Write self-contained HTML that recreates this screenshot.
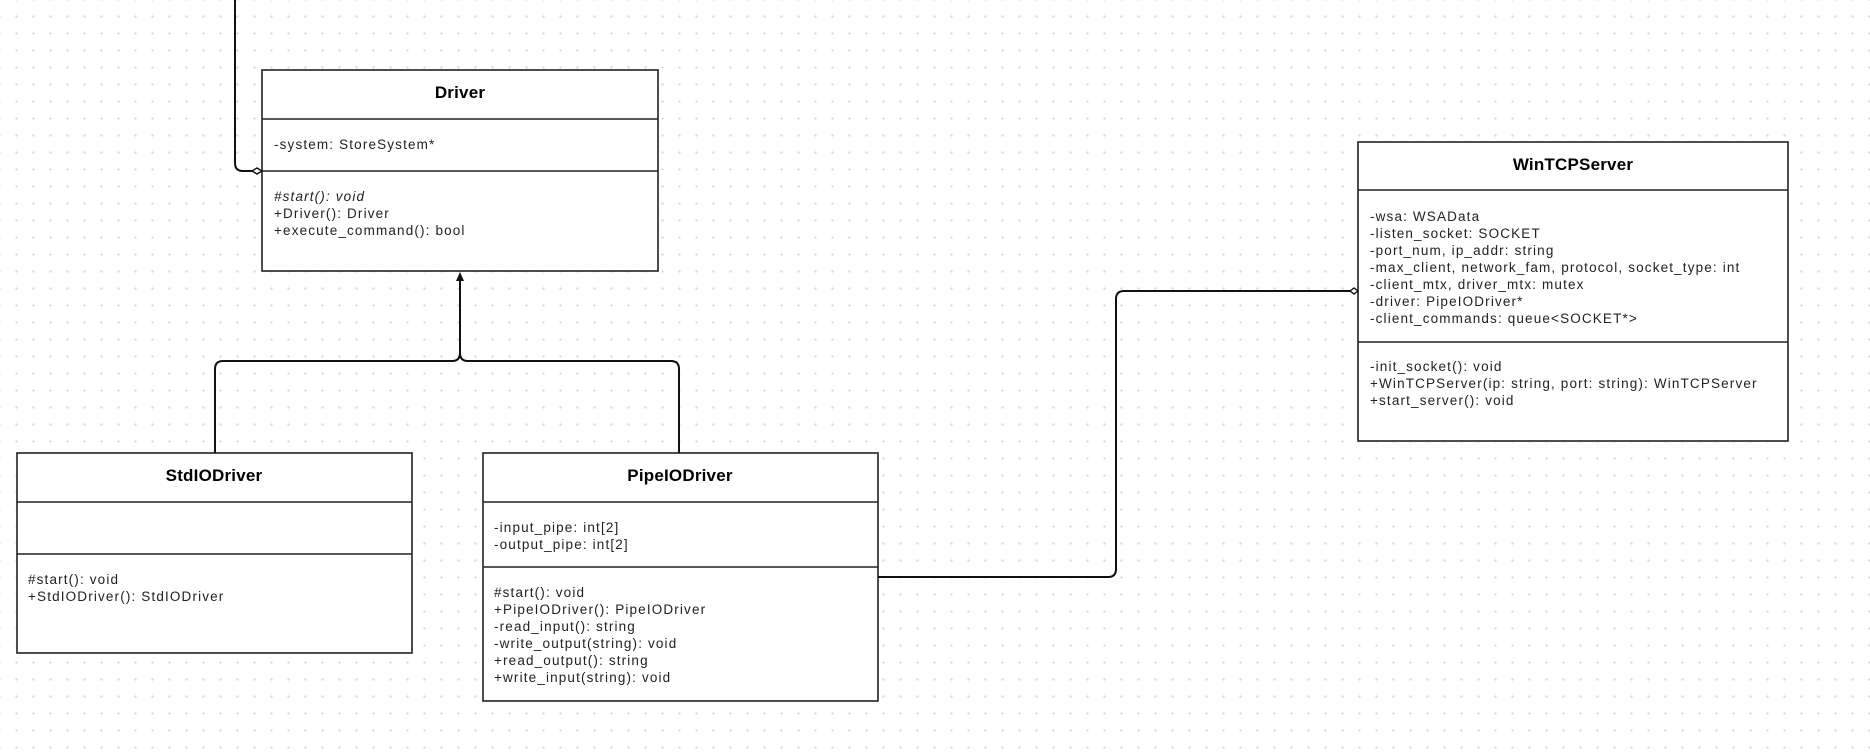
<!DOCTYPE html>
<html><head><meta charset="utf-8"><style>
html,body{margin:0;padding:0;}
body{width:1870px;height:756px;overflow:hidden;background-color:#fff;
background-image:radial-gradient(circle,#d6d6d6 1px,transparent 1.3px);background-size:17px 17px;background-position:8px 8px;}
svg{position:absolute;left:0;top:0;}
text{font-family:"Liberation Sans",sans-serif;font-size:13.5px;fill:#222;letter-spacing:1.15px;}
.t{font-weight:bold;font-size:17px;fill:#000;letter-spacing:0.2px;}
</style></head><body>
<svg width="1870" height="756" viewBox="0 0 1870 756">
<g fill="#fff" stroke="#222" stroke-width="1.6">
<rect x="262" y="70" width="396" height="201"/>
<line x1="262" y1="119" x2="658" y2="119"/><line x1="262" y1="171" x2="658" y2="171"/>
<rect x="17" y="453" width="395" height="200"/>
<line x1="17" y1="502" x2="412" y2="502"/><line x1="17" y1="554" x2="412" y2="554"/>
<rect x="483" y="453" width="395" height="248"/>
<line x1="483" y1="502" x2="878" y2="502"/><line x1="483" y1="567" x2="878" y2="567"/>
<rect x="1358" y="142" width="430" height="299"/>
<line x1="1358" y1="190" x2="1788" y2="190"/><line x1="1358" y1="342" x2="1788" y2="342"/>
</g>
<g fill="none" stroke="#111" stroke-width="2">
<path d="M235 0 V163 Q235 171 243 171 H252"/>
<path d="M460 276 V353 Q460 361 452 361 H223 Q215 361 215 369 V453"/>
<path d="M460 353 Q460 361 468 361 H671 Q679 361 679 369 V453"/>
<path d="M878 577 H1108 Q1116 577 1116 569 V299 Q1116 291 1124 291 H1350"/>
</g>
<polygon points="252,171 257,168 262,171 257,174" fill="#fff" stroke="#111" stroke-width="1.4"/>
<polygon points="1350,291 1354,288 1358,291 1354,294" fill="#fff" stroke="#111" stroke-width="1.4"/>
<polygon points="460,272 456,281 464,281" fill="#111"/>
<text class="t" x="460" y="98" text-anchor="middle">Driver</text>
<text x="274" y="149">-system: StoreSystem*</text>
<text x="274" y="201" font-style="italic">#start(): void</text>
<text x="274" y="218">+Driver(): Driver</text>
<text x="274" y="235">+execute_command(): bool</text>
<text class="t" x="214" y="481" text-anchor="middle">StdIODriver</text>
<text x="28" y="584">#start(): void</text>
<text x="28" y="601">+StdIODriver(): StdIODriver</text>
<text class="t" x="680" y="481" text-anchor="middle">PipeIODriver</text>
<text x="494" y="532">-input_pipe: int[2]</text>
<text x="494" y="549">-output_pipe: int[2]</text>
<text x="494" y="597">#start(): void</text>
<text x="494" y="614">+PipeIODriver(): PipeIODriver</text>
<text x="494" y="631">-read_input(): string</text>
<text x="494" y="648">-write_output(string): void</text>
<text x="494" y="665">+read_output(): string</text>
<text x="494" y="682">+write_input(string): void</text>
<text class="t" x="1573" y="170" text-anchor="middle">WinTCPServer</text>
<text x="1370" y="221">-wsa: WSAData</text>
<text x="1370" y="238">-listen_socket: SOCKET</text>
<text x="1370" y="255">-port_num, ip_addr: string</text>
<text x="1370" y="272">-max_client, network_fam, protocol, socket_type: int</text>
<text x="1370" y="289">-client_mtx, driver_mtx: mutex</text>
<text x="1370" y="306">-driver: PipeIODriver*</text>
<text x="1370" y="323">-client_commands: queue&lt;SOCKET*&gt;</text>
<text x="1370" y="371">-init_socket(): void</text>
<text x="1370" y="388">+WinTCPServer(ip: string, port: string): WinTCPServer</text>
<text x="1370" y="405">+start_server(): void</text>
</svg>
</body></html>
